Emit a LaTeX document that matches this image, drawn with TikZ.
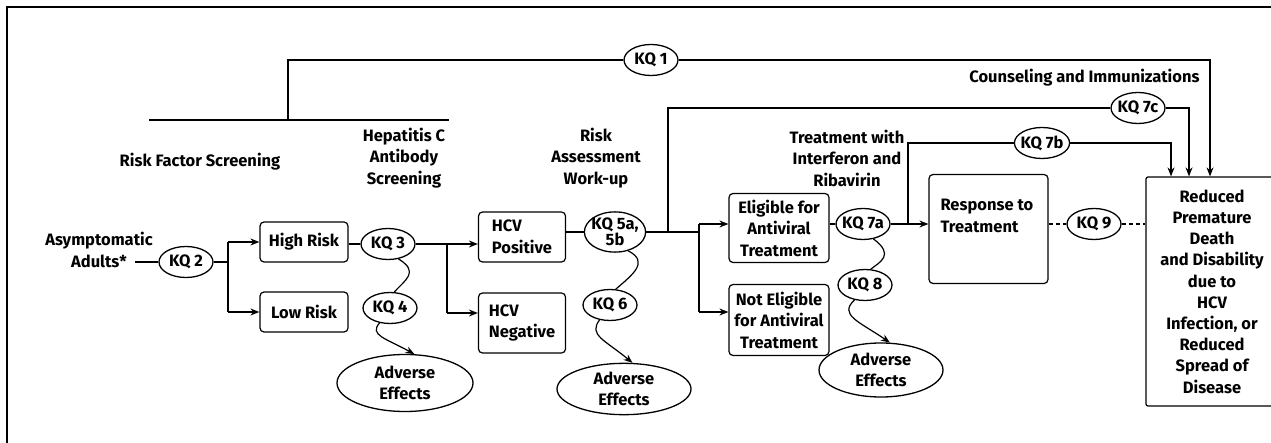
\documentclass[tikz,border=0pt]{standalone}
\usepackage{fontspec}
\setmainfont{Fira Sans}
\usetikzlibrary{shapes.geometric,arrows.meta,calc}
\begin{document}
\begin{tikzpicture}[x=1pt,y=-1pt,
  every node/.style={font=\fontsize{16.5}{21.5}\selectfont\bfseries},
  kq/.style={draw, ellipse, line width=1.3pt, minimum width=54pt, minimum height=31pt, inner xsep=-2pt, inner ysep=0pt},
  box/.style={draw, rounded corners=4pt, line width=1.2pt},
  adv/.style={draw, ellipse, line width=1.3pt, align=center, inner sep=1pt},
  conn/.style={line width=1.2pt},
  arr/.style={conn, -{Stealth[length=9pt,width=7pt]}},
  lbl/.style={align=center}]
\useasboundingbox (0,0) rectangle (1271,443);
\clip (0,0) rectangle (1271,443);
\draw[line width=2pt] (1271,7) -- (7,7) -- (7,443);

% labels
\node[lbl] (asym) at (99,250) {Asymptomatic\\Adults*};
\node[lbl] (rfs) at (200,162) {Risk Factor Screening};
\node[lbl] (hcs) at (404,158) {Hepatitis C\\Antibody\\Screening};
\node[lbl] (raw) at (596,158) {Risk\\Assessment\\Work-up};
\node[lbl] (twi) at (847,158) {Treatment with\\Interferon and\\Ribavirin};
\node[lbl, anchor=east] (cai) at (1203,78) {Counseling and Immunizations};

% boxes
\node[box, minimum width=88pt, minimum height=40pt] (high) at (304,242) {High Risk};
\node[box, minimum width=88pt, minimum height=40pt] (low) at (304,312) {Low Risk};
\node[box, minimum width=87pt, minimum height=50pt, align=left] (hpos) at (522,237) {HCV\\Positive};
\node[box, minimum width=87pt, minimum height=60pt, align=left] (hneg) at (522,323) {HCV\\Negative};
\node[box, minimum width=100pt, minimum height=69pt, align=center] (elig) at (779,228) {Eligible for\\Antiviral\\Treatment};
\node[box, minimum width=100pt, minimum height=71pt, align=center] (nelig) at (779,320) {Not Eligible\\for Antiviral\\Treatment};
\node[box, minimum width=119pt, minimum height=109pt] (resp) at (988.5,229) {};
\node[lbl, align=left, anchor=north west] (resptxt) at (937,196) {Response to\\Treatment};
\node[box, rounded corners=2pt, minimum width=132pt, minimum height=229pt, align=center, font=\fontsize{16.5}{21.2}\selectfont\bfseries] (out) at (1212,291.5) {Reduced\\Premature\\Death\\and Disability\\due to\\HCV\\Infection, or\\Reduced\\Spread of\\Disease};

% KQ ellipses
\node[kq] (kq1) at (651,60) {KQ 1};
\node[kq] (kq2) at (186,262) {KQ 2};
\node[kq] (kq3) at (388,244) {KQ 3};
\node[kq] (kq4) at (390,308) {KQ 4};
\node[kq, align=center, font=\fontsize{16.5}{13.5}\selectfont\bfseries] (kq5) at (615,232) {KQ 5a,\\5b};
\node[kq] (kq6) at (610,305) {KQ 6};
\node[kq] (kq7a) at (863,224) {KQ 7a};
\node[kq] (kq7b) at (1042,143) {KQ 7b};
\node[kq] (kq7c) at (1138,108) {KQ 7c};
\node[kq] (kq8) at (865,285) {KQ 8};
\node[kq] (kq9) at (1094,224) {KQ 9};

% adverse effects
\node[adv, minimum width=136pt, minimum height=57pt] (ae1) at (405,383) {Adverse\\Effects};
\node[adv, minimum width=134pt, minimum height=50pt] (ae2) at (624,389) {Adverse\\Effects};
\node[adv, minimum width=124pt, minimum height=54pt] (ae3) at (881,370) {Adverse\\Effects};

% main flow
\coordinate (a0) at (135,262);
\draw[conn] (a0) -- (kq2.west);
\coordinate (j1) at (228,262);
\coordinate (j1t) at (228,242);
\coordinate (j1b) at (228,312);
\draw[conn] (kq2.east) -- (j1);
\draw[conn] (j1t) -- (j1b);
\draw[arr] (j1t) -- (j1t -| high.west);
\draw[arr] (j1b) -- (j1b -| low.west);
\draw[conn] (high.east |- kq3) -- (kq3.west);
\coordinate (j2) at (447,244);
\coordinate (j2b) at (447,313);
\draw[conn] (kq3.east) -- (j2) -- (j2b);
\draw[arr] (j2) -- (j2 -| hpos.west);
\draw[arr] (j2b) -- (j2b -| hneg.west);
\draw[conn] (hpos.east |- kq5) -- (kq5.west);
\coordinate (j3) at (699,232);
\coordinate (j3t) at (699,224);
\coordinate (j3b) at (699,312);
\draw[conn] (kq5.east) -- (j3);
\draw[conn] (j3t) -- (j3b);
\draw[arr] (j3t) -- (j3t -| elig.west);
\draw[arr] (j3b) -- (j3b -| nelig.west);
\draw[conn] (elig.east |- kq7a) -- (kq7a.west);
\draw[arr] (kq7a.east) -- (kq7a -| resp.west);
\draw[conn, dash pattern=on 4pt off 3pt] (resp.east |- kq9) -- (kq9.west);
\draw[conn, dash pattern=on 4pt off 3pt] (kq9.east) -- (kq9 -| out.west);

% KQ1 bracket
\coordinate (b1) at (149,120);
\coordinate (b2) at (449,120);
\coordinate (b3) at (288,120);
\draw[conn] (b1) -- (b2);
\draw[conn] (b3) |- (kq1.west);
\coordinate (t1) at (1210,60);
\draw[arr] (kq1.east) -- (t1) -- (t1 |- out.north);
% KQ7c
\coordinate (c0) at (668,232);
\coordinate (t2) at (1189,108);
\draw[conn] (c0) |- (kq7c.west);
\draw[arr] (kq7c.east) -- (t2) -- (t2 |- out.north);
% KQ7b
\coordinate (d0) at (908,224);
\coordinate (t3) at (1171,143);
\draw[conn] (d0) |- (kq7b.west);
\draw[arr] (kq7b.east) -- (t3) -- (t3 |- out.north);

% curves
\draw[conn] (kq3.-55) .. controls (420,272) and (405,280) .. (kq4.75);
\draw[arr] (kq4.-125) .. controls (369,335) and (385,338) .. (ae1.72);
\draw[conn] (kq5.-55) .. controls (650,262) and (632,275) .. (kq6.70);
\draw[arr] (kq6.-125) .. controls (588,335) and (605,340) .. (ae2.72);
\draw[conn] (kq7a.-55) .. controls (895,255) and (880,262) .. (kq8.70);
\draw[arr] (kq8.-125) .. controls (838,315) and (860,322) .. (ae3.72);
\end{tikzpicture}
\end{document}
